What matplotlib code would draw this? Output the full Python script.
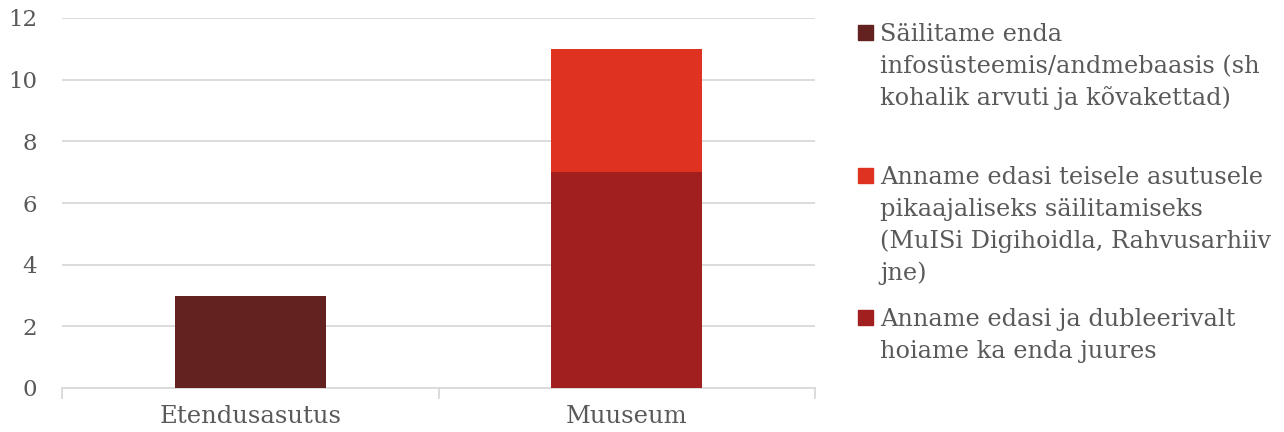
import matplotlib
matplotlib.use("Agg")
import matplotlib.pyplot as plt
from matplotlib.patches import Rectangle

categories = ["Etendusasutus", "Muuseum"]
series_names = [
    "Säilitame enda\ninfosüsteemis/andmebaasis (sh\nkohalik arvuti ja kõvakettad)",
    "Anname edasi teisele asutusele\npikaajaliseks säilitamiseks\n(MuISi Digihoidla, Rahvusarhiiv\njne)",
    "Anname edasi ja dubleerivalt\nhoiame ka enda juures",
]
s1 = [3, 0]   # Säilitame enda ...
s2 = [0, 4]   # Anname edasi teisele asutusele ...
s3 = [0, 7]   # Anname edasi ja dubleerivalt ...
colors = ["#632220", "#E03220", "#A21F20"]
yticks = [0, 2, 4, 6, 8, 10, 12]

W, H = 1284, 432
fig = plt.figure(figsize=(W / 100, H / 100), dpi=100)
FONT = "DejaVu Serif"
TXT = "#595959"
GRID = "#D9D9D9"

ax = fig.add_axes([62 / W, 1 - 388 / H, (815 - 62) / W, (388 - 18) / H])
x = list(range(len(categories)))
bw = 0.4
# stacking order: s1 bottom, then s3, then s2 on top
ax.bar(x, s1, bw, color=colors[0], zorder=3)
b3 = [a for a in s1]
ax.bar(x, s3, bw, bottom=b3, color=colors[2], zorder=3)
b2 = [a + c for a, c in zip(s1, s3)]
ax.bar(x, s2, bw, bottom=b2, color=colors[1], zorder=3)

ax.set_xlim(-0.5, len(categories) - 0.5)
ax.set_ylim(0, 12)
ax.set_yticks(yticks)
ax.set_yticklabels([str(v) for v in yticks], fontfamily=FONT, fontsize=16.5, color=TXT)
ax.yaxis.grid(True, color=GRID, linewidth=1.3, zorder=0)
ax.tick_params(axis="y", length=0, pad=18)
ax.set_xticks(x)
ax.set_xticklabels(categories, fontfamily=FONT, fontsize=17.5, color=TXT)
ax.tick_params(axis="x", length=0, pad=12)
ax.set_xticks([-0.5, 0.5, 1.5], minor=True)
ax.tick_params(axis="x", which="minor", length=8, color=GRID, width=1.3)
for sp in ["top", "right", "left"]:
    ax.spines[sp].set_visible(False)
ax.spines["bottom"].set_color(GRID)
ax.spines["bottom"].set_linewidth(1.3)

# legend (manual, to match layout)
sq_centers = [32, 175, 317]
for name, col, cy in zip(series_names, colors, sq_centers):
    fig.patches.append(Rectangle(((858) / W, 1 - (cy + 8) / H), 15 / W, 15 / H,
                                 transform=fig.transFigure, color=col))
    for i, line in enumerate(name.split("\n")):
        base = cy + 9 + i * 32
        fig.text(880 / W, 1 - base / H, line, fontfamily=FONT, fontsize=17.3,
                 color=TXT, va="baseline", ha="left")

fig.savefig("out.png", dpi=100)
